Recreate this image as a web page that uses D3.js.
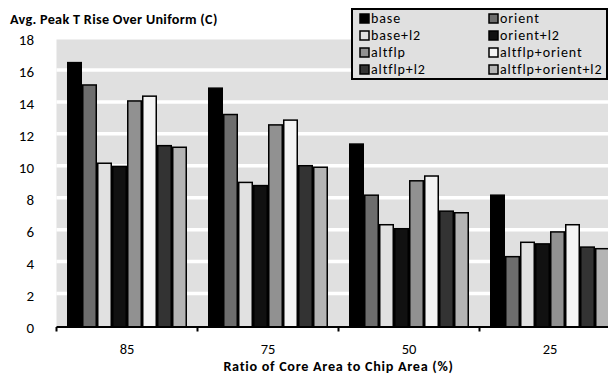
<!DOCTYPE html>
<html><head><meta charset="utf-8">
<script src="https://cdn.jsdelivr.net/npm/d3@7"></script>
<style>
html,body{margin:0;padding:0;background:#fff;}
svg{display:block;}
text{font-family:Carlito, Calibri, Lato, sans-serif;fill:#000;}
</style></head>
<body>
<svg id="c" width="608" height="375"></svg>
<script>
const categories = ["85", "75", "50", "25"];
const seriesNames = ["base", "orient", "base+l2", "orient+l2", "altflp", "altflp+orient", "altflp+l2", "altflp+orient+l2"];
const seriesColors = ["#000000", "#6d6d6d", "#e1e1e1", "#111111", "#919191", "#f4f4f4", "#333333", "#b4b4b4"];
const base = [16.6, 15.0, 11.5, 8.3];
const orient = [15.2, 13.35, 8.3, 4.45];
const baseL2 = [10.3, 9.1, 6.45, 5.35];
const orientL2 = [10.1, 8.9, 6.2, 5.25];
const altflp = [14.2, 12.7, 9.2, 6.0];
const altflpOrient = [14.5, 13.0, 9.5, 6.45];
const altflpL2 = [11.4, 10.15, 7.3, 5.05];
const altflpOrientL2 = [11.3, 10.05, 7.2, 4.95];
const yTicks = [0, 2, 4, 6, 8, 10, 12, 14, 16, 18];
const gridValues = [2, 4, 6, 8, 10, 12, 14, 16];
const titleText = "Avg. Peak T Rise Over Uniform (C)";
const xTitleText = "Ratio of Core Area to Chip Area (%)";

const seriesValues = [base, orient, baseL2, orientL2, altflp, altflpOrient, altflpL2, altflpOrientL2];

const svg = d3.select("#c");
const pLeft = 56.5, pRight = 620.5, pTop = 39.5, pBottom = 327;

const x0 = d3.scaleBand().domain(categories).range([pLeft, pRight]).paddingInner(0.149).paddingOuter(0.0745);
const x1 = d3.scaleBand().domain(seriesNames).range([0, x0.bandwidth()]);
const y = d3.scaleLinear().domain([0, 18]).range([pBottom, pTop]);
const xb = d3.scaleLinear().domain([0, categories.length]).range([pLeft, pRight]);

// plot background
svg.append("rect").attr("x", pLeft).attr("y", y(18)).attr("width", pRight - pLeft).attr("height", y(0) - y(18)).attr("fill", "#e0e0e0");

// gridlines
svg.append("g").selectAll("line").data(gridValues).join("line")
  .attr("x1", pLeft).attr("x2", pRight)
  .attr("y1", d => y(d) - 1.5).attr("y2", d => y(d) - 1.5)
  .attr("stroke", "#fff").attr("stroke-width", 3.5);

// bars
const groups = svg.append("g").selectAll("g").data(categories).join("g")
  .attr("transform", d => `translate(${x0(d)},0)`);
groups.selectAll("rect").data((c, ci) => seriesNames.map((s, si) => ({s, si, v: seriesValues[si][ci]}))).join("rect")
  .attr("x", d => x1(d.s) + 0.75)
  .attr("width", x1.bandwidth() - 1.5)
  .attr("y", d => y(d.v) + 0.75)
  .attr("height", d => y(0) - y(d.v) - 0.75)
  .attr("fill", d => seriesColors[d.si])
  .attr("stroke", "#000").attr("stroke-width", 1.5);

// y axis labels
const yAxis = d3.axisLeft(y).tickValues(yTicks).tickSize(0).tickPadding(0);
const yg = svg.append("g").attr("transform", `translate(34,0)`).call(yAxis);
yg.select(".domain").remove();
yg.selectAll("text").attr("font-size", 15).attr("dy", "0.35em").style("font-family", "Carlito, Calibri, Lato, sans-serif").attr("fill", "#000");

// x axis line and boundary ticks
svg.append("line").attr("x1", pLeft).attr("x2", pRight).attr("y1", pBottom).attr("y2", pBottom).attr("stroke", "#000").attr("stroke-width", 2);
svg.append("g").selectAll("line").data(d3.range(categories.length + 1)).join("line")
  .attr("x1", d => xb(d)).attr("x2", d => xb(d)).attr("y1", pBottom).attr("y2", pBottom + 4.5)
  .attr("stroke", "#000").attr("stroke-width", 2);

// x labels
const xAxis = d3.axisBottom(x0).tickSize(0).tickPadding(0);
const xg = svg.append("g").attr("transform", `translate(0,349)`).call(xAxis);
xg.select(".domain").remove();
xg.selectAll("text").attr("font-size", 14.5).attr("dy", "0.35em").attr("y", 0).style("font-family", "Carlito, Calibri, Lato, sans-serif").attr("fill", "#000");

// titles
svg.append("text").attr("x", 10).attr("y", 19).attr("dy", "0.35em").attr("font-size", 14.2).attr("letter-spacing", 0.3).attr("font-weight", "bold").text(titleText);
svg.append("text").attr("x", (pLeft + pRight) / 2).attr("y", 366.5).attr("dy", "0.35em").attr("text-anchor", "middle").attr("font-size", 14.2).attr("letter-spacing", 0.7).attr("font-weight", "bold").text(xTitleText);

// legend
const lg = svg.append("g");
lg.append("rect").attr("x", 352).attr("y", 9).attr("width", 255).attr("height", 70).attr("fill", "#e0e0e0").attr("stroke", "#000").attr("stroke-width", 2);
const items = lg.selectAll("g").data(seriesNames).join("g")
  .attr("transform", (d, i) => `translate(${i % 2 === 0 ? 360 : 489},${18.5 + Math.floor(i / 2) * 17})`);
items.append("rect").attr("x", 0).attr("y", -4.5).attr("width", 9).attr("height", 9)
  .attr("fill", (d, i) => seriesColors[i]).attr("stroke", "#000").attr("stroke-width", 1.5);
items.append("text").attr("x", 11).attr("y", 0).attr("dy", "0.35em").attr("font-size", 14).attr("letter-spacing", 0.9).text(d => d);
</script>
</body></html>
